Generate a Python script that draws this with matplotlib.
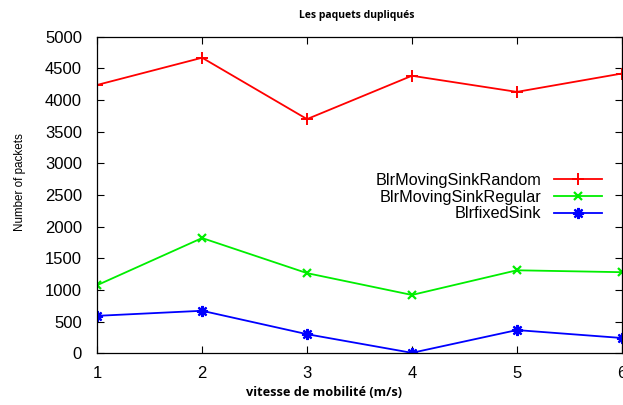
import matplotlib
matplotlib.use("Agg")
import matplotlib.pyplot as plt

x = [1, 2, 3, 4, 5, 6]
random_vals = [4240, 4670, 3700, 4385, 4130, 4420]
regular_vals = [1075, 1820, 1265, 920, 1310, 1280]
fixed_vals = [590, 670, 300, 5, 365, 240]
labels = ["BlrMovingSinkRandom", "BlrMovingSinkRegular", "BlrfixedSink"]

plt.rcParams['font.family'] = ['Liberation Sans', 'DejaVu Sans']
fig = plt.figure(figsize=(6.23, 4.05), dpi=100)
ax = fig.add_axes([0.156, 0.128, 0.842, 0.781])

ax.plot(x, random_vals, color='#ff0000', marker='+', markersize=8, mew=1.4, lw=1.3, label=labels[0])
ax.plot(x, regular_vals, color='#00ee00', marker='x', markersize=6, mew=1.6, lw=1.3, label=labels[1])
ax.plot(x, fixed_vals, color='#0000ff', marker=(8, 2, 0), markersize=8, mew=1.6, lw=1.3, label=labels[2])

ax.set_xlim(1, 6)
ax.set_ylim(0, 5000)
ax.set_xticks(x)
ax.set_yticks(range(0, 5001, 500))
ax.tick_params(direction='in', top=True, right=True, labelsize=12, length=5, width=0.8)
ax.tick_params(axis='y', pad=11)
ax.tick_params(axis='x', pad=9)
for s in ax.spines.values():
    s.set_linewidth(0.9)

ax.set_ylabel("Number of packets", fontsize=8.4)
ax.yaxis.set_label_coords(-0.135, 0.54)
ax.set_xlabel("vitesse de mobilité (m/s)", fontsize=9.2, fontweight='bold', family=['Open Sans', 'DejaVu Sans'])
ax.xaxis.set_label_coords(0.433, -0.105)
fig.text(0.573, 0.962, "Les paquets dupliqués", fontsize=7.5, fontweight='bold', family=['Open Sans', 'DejaVu Sans'], ha='center', va='center')

ax.legend(loc='upper right', bbox_to_anchor=(0.977, 0.595), frameon=False, markerfirst=False,
          fontsize=11.7, handlelength=2.9, labelspacing=0.1, borderpad=0, handletextpad=0.8)

fig.savefig("out.png", dpi=100)
